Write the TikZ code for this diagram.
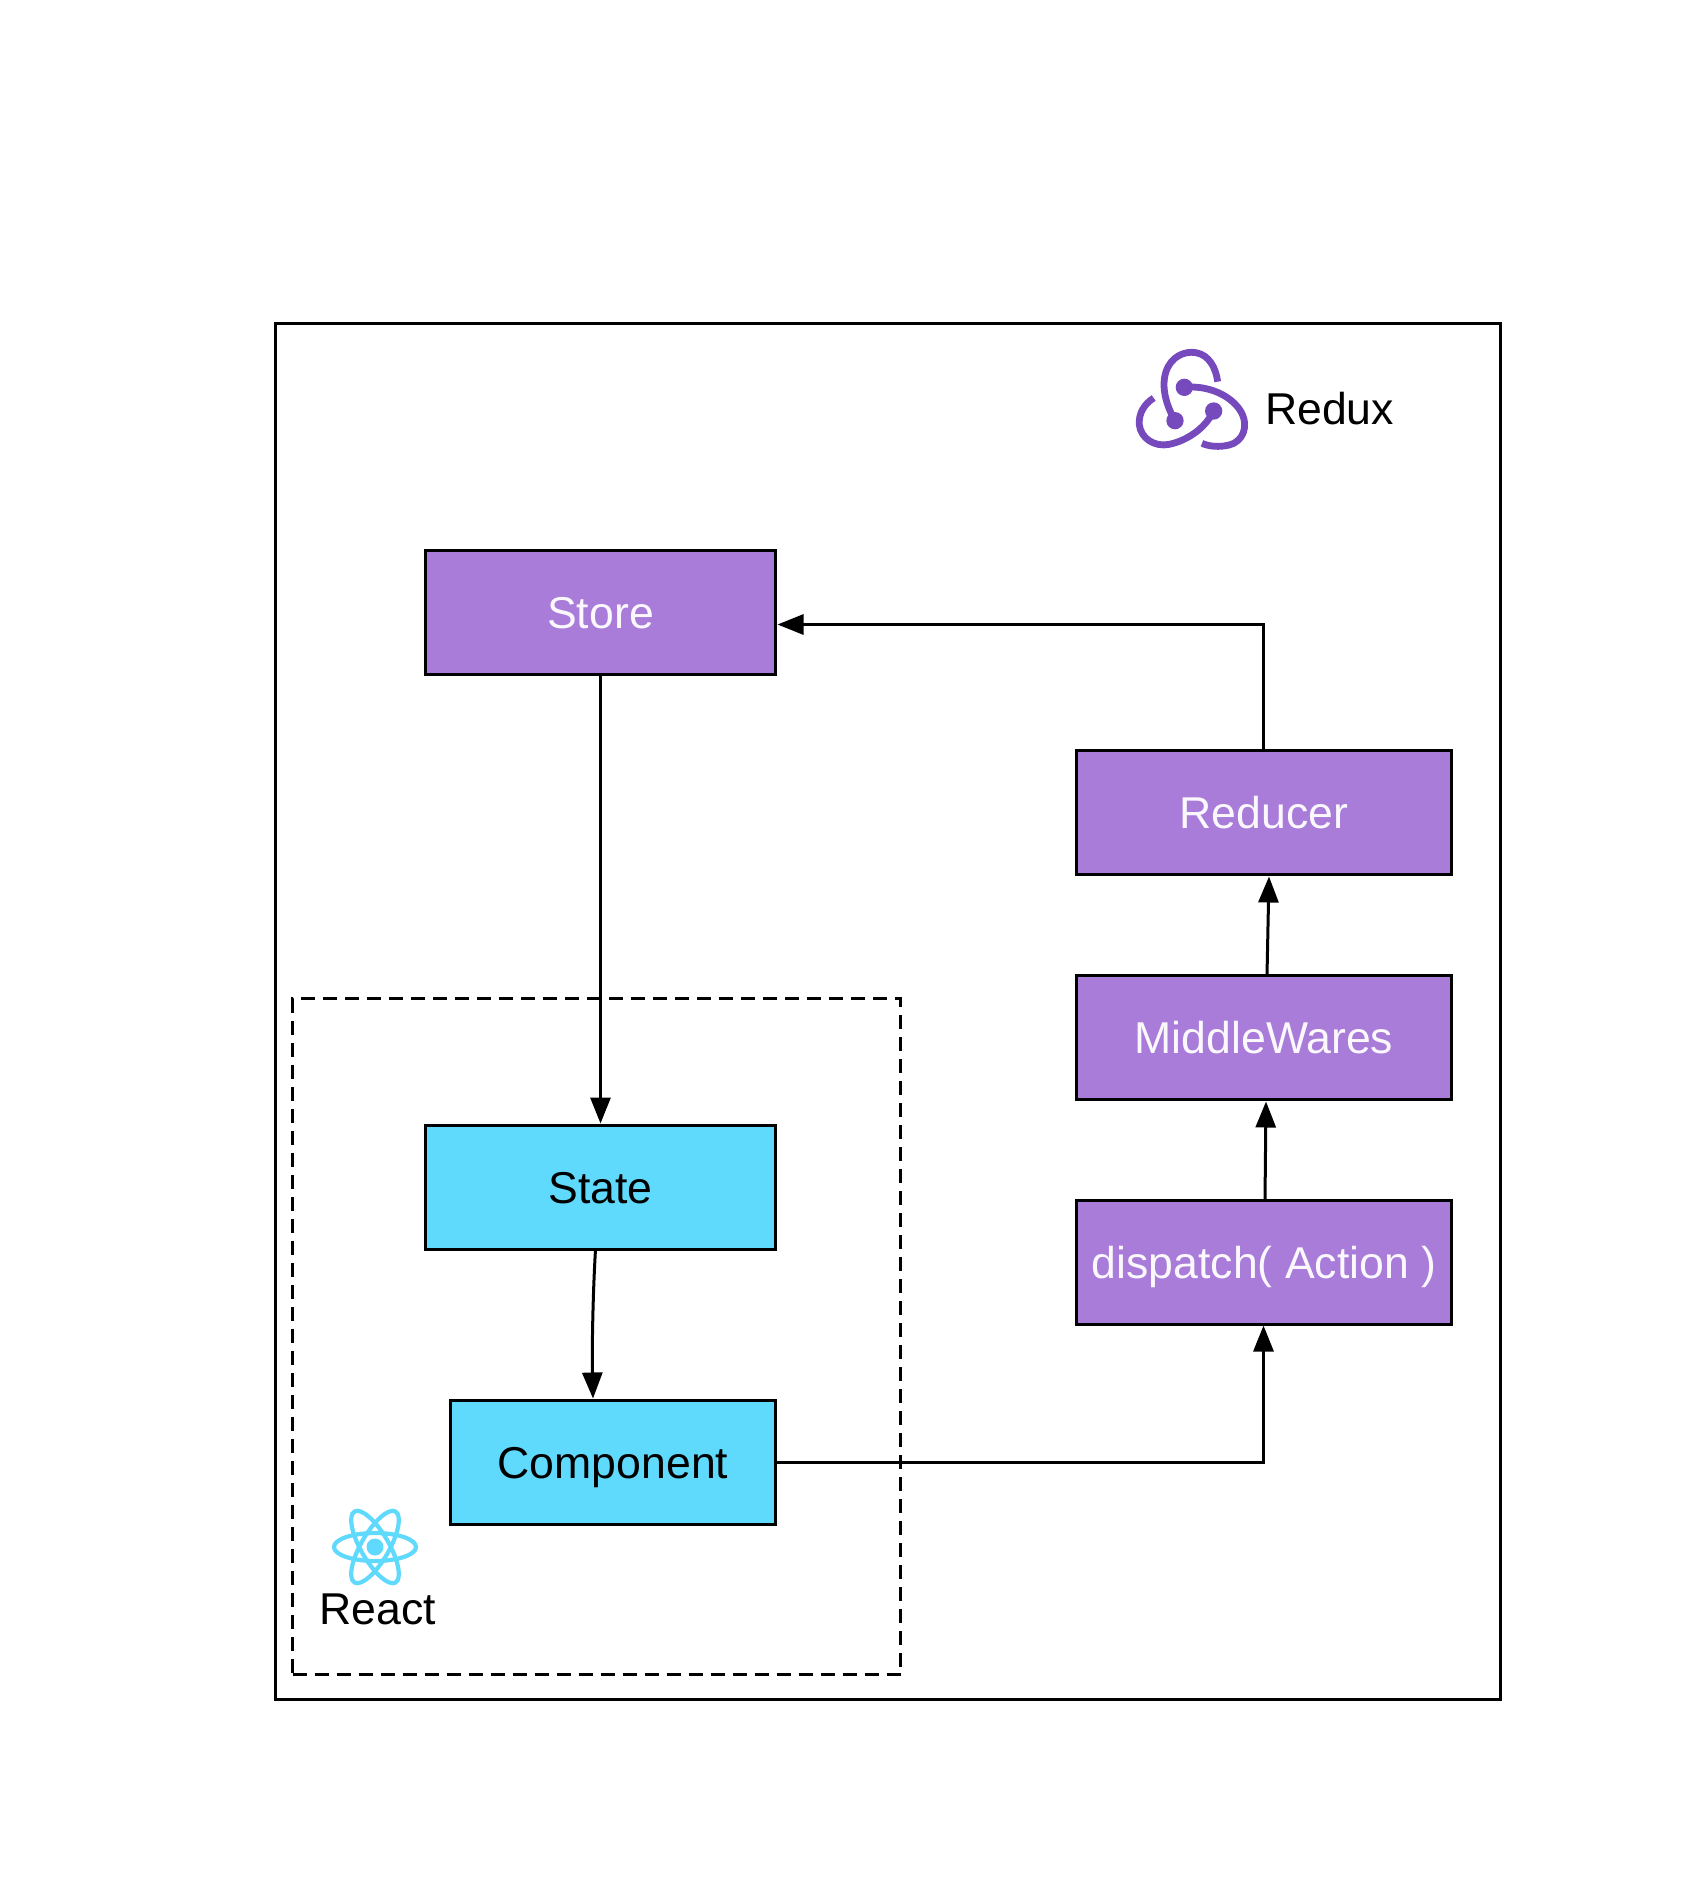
\documentclass[tikz,border=0pt]{standalone}
\usepackage{fontspec}
\setmainfont{Liberation Sans}
\usetikzlibrary{arrows.meta}
\definecolor{rxpurple}{HTML}{A87CD8}
\definecolor{rxlogo}{HTML}{764ABC}
\definecolor{rcblue}{HTML}{5FD9FC}
\definecolor{offwhite}{HTML}{FAF7FD}
\tikzset{
  x=1pt,y=-1pt,
  boxbase/.style={draw=black,line width=3pt,outer sep=0pt,inner sep=0pt,anchor=center,text height=31.5pt,text depth=0pt,font=\fontsize{44.6}{50}\selectfont},
  rxbox/.style={boxbase,fill=rxpurple,text=offwhite},
  rcbox/.style={boxbase,fill=rcblue,text=black},
  lab/.style={inner sep=0pt,text height=31.5pt,text depth=0pt,font=\fontsize{44.6}{50}\selectfont,text=black},
  flow/.style={draw=black,line width=3pt,-{Triangle[length=26pt,width=20pt]}},
  logostroke/.style={line width=6.8pt,line cap=butt,rxlogo},
  atom/.style={draw=rcblue,line width=4.2pt}
}
\begin{document}
\begin{tikzpicture}
\useasboundingbox (0,0) rectangle (1699,1899);
\fill[white] (0,0) rectangle (1699,1899);
% frames
\node[draw=black,line width=3pt,minimum width=1225pt,minimum height=1376pt,inner sep=0pt,outer sep=0pt] (outer) at (888,1011.5) {};
\node[draw=black,line width=3pt,dash pattern=on 14pt off 8pt,minimum width=608pt,minimum height=676pt,inner sep=0pt,outer sep=0pt] (reactframe) at (596.5,1336.5) {};
% boxes
\node[rxbox,minimum width=350pt,minimum height=124pt] (store) at (600.5,612.5) {Store};
\node[rxbox,minimum width=375pt,minimum height=124pt] (reducer) at (1264,812.5) {Reducer};
\node[rxbox,minimum width=375pt,minimum height=124pt] (middle) at (1264,1037.5) {MiddleWares};
\node[rxbox,minimum width=375pt,minimum height=124pt] (dispatch) at (1264,1262.5) {dispatch( Action )};
\node[rcbox,minimum width=350pt,minimum height=124pt] (state) at (600.5,1187.5) {State};
\node[rcbox,minimum width=325pt,minimum height=124pt] (component) at (613,1462.5) {Component};
% connectors
\draw[flow] (store.south) -- ([yshift=2pt]state.north);
\draw[flow] ([xshift=-0.5pt]reducer.north) |- ([xshift=2pt,yshift=-12pt]store.east);
\draw[flow] ([xshift=3pt]middle.north) -- ([xshift=5pt,yshift=-2pt]reducer.south);
\draw[flow] ([xshift=1pt]dispatch.north) -- ([xshift=2pt,yshift=-2pt]middle.south);
\draw[flow] (component.east) -| ([xshift=-0.5pt,yshift=-1pt]dispatch.south);
\draw[flow] ([xshift=-5pt]state.south) .. controls +(-3,50) and +(-1,-40) .. ([xshift=-20pt,yshift=2pt]component.north);
% redux logo
\begin{scope}[shift={(1101,330)},x=0.3333pt,y=-0.3333pt]
\draw[logostroke] (222,272) .. controls (195,225) and (180,170) .. (195,125) .. controls (210,80) and (250,62) .. (285,68) .. controls (325,75) and (345,115) .. (350,155);
\draw[logostroke] (250,172) .. controls (320,165) and (390,195) .. (420,245) .. controls (445,290) and (425,335) .. (385,345) .. controls (355,352) and (325,350) .. (303,340);
\draw[logostroke] (338,243) .. controls (315,290) and (265,330) .. (205,343) .. controls (160,352) and (120,325) .. (115,285) .. controls (112,250) and (130,222) .. (158,204);
\fill[rxlogo] (250,172) circle (26);
\fill[rxlogo] (222,272) circle (26);
\fill[rxlogo] (338,243) circle (26);
\end{scope}
\node[lab] (reduxlabel) at (1329.5,409) {Redux};
% react logo
\draw[atom] (375,1547) ellipse [x radius=41,y radius=14];
\draw[atom,rotate around={60:(375,1547)}] (375,1547) ellipse [x radius=41,y radius=14];
\draw[atom,rotate around={120:(375,1547)}] (375,1547) ellipse [x radius=41,y radius=14];
\fill[rcblue] (375,1547) circle (8.5);
\node[lab] (reactlabel) at (377.5,1609) {React};
\end{tikzpicture}
\end{document}
